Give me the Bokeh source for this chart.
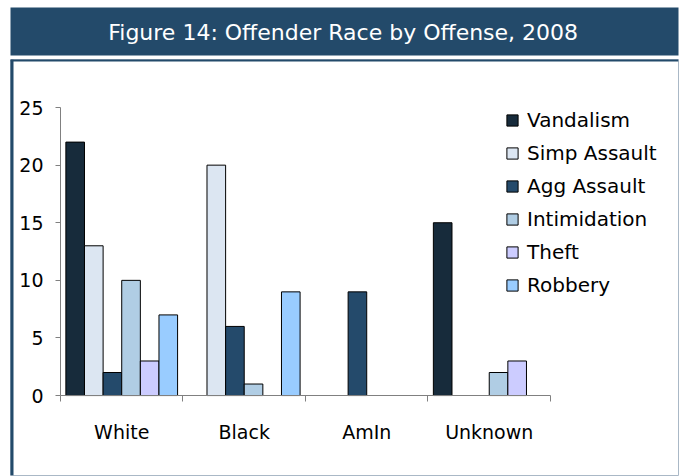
from bokeh.plotting import figure
from bokeh.layouts import column
from bokeh.models import (Range1d, LinearAxis, FixedTicker, Legend, LegendItem,
                          Label, ColumnDataSource, Span)
from bokeh.transform import dodge
from bokeh.embed import file_html
from bokeh.resources import INLINE

# ---- data ----
races = ["White", "Black", "AmIn", "Unknown"]
offenses = ["Vandalism", "Simp Assault", "Agg Assault", "Intimidation", "Theft", "Robbery"]
vandalism = [22, 0, 0, 15]
simp_assault = [13, 20, 0, 0]
agg_assault = [2, 6, 9, 0]
intimidation = [10, 1, 0, 2]
theft = [3, 0, 0, 3]
robbery = [7, 9, 0, 0]
y_ticks = [0, 5, 10, 15, 20, 25]
title_text = "Figure 14: Offender Race by Offense, 2008"

series = [vandalism, simp_assault, agg_assault, intimidation, theft, robbery]
colors = ["#172b3b", "#dce6f2", "#244a6b", "#b0cde4", "#ccccff", "#99ccff"]

FONT = "DejaVu Sans"
AXIS_GRAY = "#808080"
DARK = "#234a6a"

n = len(races)
centers = [k + 0.5 for k in range(n)]
y_max = y_ticks[-1]

# ---- title bar ----
t = figure(width=681, height=58, x_range=Range1d(0, 1), y_range=Range1d(0, 1),
           output_backend="svg", toolbar_location=None,
           x_axis_location=None, y_axis_location=None,
           min_border_left=8, min_border_right=0, min_border_top=7, min_border_bottom=3)
t.background_fill_color = DARK
t.border_fill_color = "white"
t.outline_line_color = None
t.xgrid.visible = False
t.ygrid.visible = False
t.add_layout(Label(x=0.498, y=0.47, text=title_text, text_align="center",
                   text_baseline="middle", text_color="white",
                   text_font=FONT, text_font_size="22px"))

# ---- chart ----
x0, x1 = -0.408, 5.045
y0, y1 = -6.94, 29.17
p = figure(width=681, height=418, x_range=Range1d(x0, x1), y_range=Range1d(y0, y1),
           output_backend="svg", toolbar_location=None,
           x_axis_location=None, y_axis_location=None,
           min_border_left=10, min_border_right=3, min_border_top=1, min_border_bottom=1)
p.outline_line_color = "#aab8c6"
p.outline_line_width = 1
p.xgrid.visible = False
p.ygrid.visible = False
p.background_fill_color = "white"
p.border_fill_color = "white"
p.add_layout(Span(location=x0, dimension="height", line_color=DARK, line_width=6))
p.add_layout(Span(location=y1, dimension="width", line_color=DARK, line_width=4))

yax = LinearAxis(fixed_location=0, bounds=(0, y_max),
                 ticker=FixedTicker(ticks=y_ticks),
                 major_tick_out=5, major_tick_in=0, minor_tick_line_color=None,
                 axis_line_color=AXIS_GRAY, major_tick_line_color=AXIS_GRAY,
                 major_label_text_font=FONT, major_label_text_font_size="19px",
                 major_label_text_color="black", major_label_standoff=12)
p.add_layout(yax, "left")

xax = LinearAxis(fixed_location=0, bounds=(0, n),
                 ticker=FixedTicker(ticks=centers, minor_ticks=list(range(n + 1))),
                 major_label_overrides={c: r for c, r in zip(centers, races)},
                 major_tick_line_color=None, major_tick_out=0, major_tick_in=0,
                 minor_tick_out=6, minor_tick_in=0, minor_tick_line_color=AXIS_GRAY,
                 axis_line_color=AXIS_GRAY,
                 major_label_text_font=FONT, major_label_text_font_size="19px",
                 major_label_text_color="black", major_label_standoff=19)
p.add_layout(xax, "below")

bw = 0.152
items = []
for i, (name, vals, col) in enumerate(zip(offenses, series, colors)):
    xs = [c for c, v in zip(centers, vals) if v != 0]
    ys = [v for v in vals if v != 0]
    src = ColumnDataSource(dict(x=xs, top=ys))
    r = p.vbar(x=dodge("x", (i - 2.5) * bw), top="top", bottom=0,
               width=bw, source=src, fill_color=col, line_color="black", line_width=1)
    items.append(LegendItem(label=name, renderers=[r]))

legend = Legend(items=items, location=(495, 178),
                label_text_font=FONT, label_text_font_size="20px",
                label_text_color="black",
                glyph_width=14, glyph_height=14, label_height=24, spacing=9,
                padding=0, margin=0, border_line_color=None,
                background_fill_alpha=0, label_standoff=8)
p.add_layout(legend)

layout = column(t, p, spacing=0)
open("out.html", "w").write(file_html(layout, INLINE))
